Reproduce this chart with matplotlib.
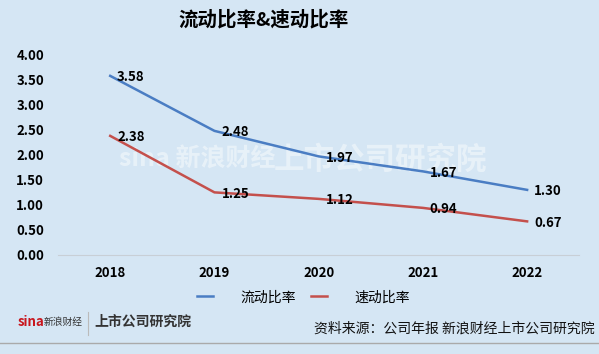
import matplotlib
matplotlib.use("Agg")
import matplotlib.pyplot as plt

plt.rcParams['font.family'] = ['Noto Sans CJK SC', 'DejaVu Sans']

years = ["2018", "2019", "2020", "2021", "2022"]
current_ratio = [3.58, 2.48, 1.97, 1.67, 1.30]
quick_ratio = [2.38, 1.25, 1.12, 0.94, 0.67]
yticks = [0, 0.5, 1.0, 1.5, 2.0, 2.5, 3.0, 3.5, 4.0]

bg = "#D5E6F4"
blue = "#4A7DC3"
red = "#C4504C"

fig = plt.figure(figsize=(5.99, 3.54), dpi=100, facecolor=bg)
ax = fig.add_axes([0.097, 0.28, 0.870, 0.565], facecolor=bg)

# faint watermark behind the lines
ax.text(0.33, 0.55, "sina 新浪财经", transform=fig.transFigure, ha="center", va="center",
        fontsize=18, fontweight="bold", color="white", alpha=0.45, style="italic", zorder=0.5)
ax.text(0.635, 0.55, "上市公司研究院", transform=fig.transFigure, ha="center", va="center",
        fontsize=22, fontweight="bold", color="white", alpha=0.45, style="italic", zorder=0.5)

x = range(len(years))
ax.plot(x, current_ratio, color=blue, lw=1.8, label="流动比率", zorder=2)
ax.plot(x, quick_ratio, color=red, lw=1.8, label="速动比率", zorder=2)

for xi, v in zip(x, current_ratio):
    ax.annotate(f"{v:.2f}", (xi, v), xytext=(5, -1), textcoords="offset points",
                ha="left", va="center", fontsize=9.5, fontweight="bold", zorder=3)
for xi, v in zip(x, quick_ratio):
    ax.annotate(f"{v:.2f}", (xi, v), xytext=(5, -1), textcoords="offset points",
                ha="left", va="center", fontsize=9.5, fontweight="bold", zorder=3)

ax.set_xlim(-0.5, len(years) - 0.5)
ax.set_ylim(0, 4)
ax.set_yticks(yticks)
ax.set_yticklabels([f"{t:.2f}" for t in yticks], fontsize=9.5, fontweight="bold")
ax.set_xticks(list(x))
ax.set_xticklabels(years, fontsize=9.5, fontweight="bold")
ax.tick_params(length=0, pad=8)
ax.tick_params(axis="y", pad=10)
for s in ["top", "right", "left"]:
    ax.spines[s].set_visible(False)
ax.spines["bottom"].set_color("#C8CFD6")

fig.text(0.44, 0.945, "流动比率&速动比率", ha="center", va="center",
         fontsize=14, fontweight="bold")

fig.legend(loc="center", bbox_to_anchor=(0.507, 0.16), ncol=2, frameon=False,
           fontsize=10, handlelength=1.15, handletextpad=1.95, columnspacing=1.1)

# footer
fig.text(0.03, 0.09, "sina", ha="left", va="center", fontsize=9.5, fontweight="bold",
         color="#C8161D", style="italic")
fig.text(0.073, 0.09, "新浪财经", ha="left", va="center", fontsize=7, color="#333333")
fig.add_artist(plt.Line2D([0.147, 0.147], [0.055, 0.12], color="#BBBBBB", lw=0.8))
fig.text(0.158, 0.09, "上市公司研究院", ha="left", va="center", fontsize=10,
         fontweight="bold", color="#333333", style="italic")
fig.text(0.992, 0.071, "资料来源：公司年报 新浪财经上市公司研究院", ha="right", va="center",
         fontsize=10, color="#111111")
fig.add_artist(plt.Line2D([0, 1], [0.031, 0.031], color="#AAAAAA", lw=1))

fig.savefig("out.png", dpi=100, facecolor=bg)
